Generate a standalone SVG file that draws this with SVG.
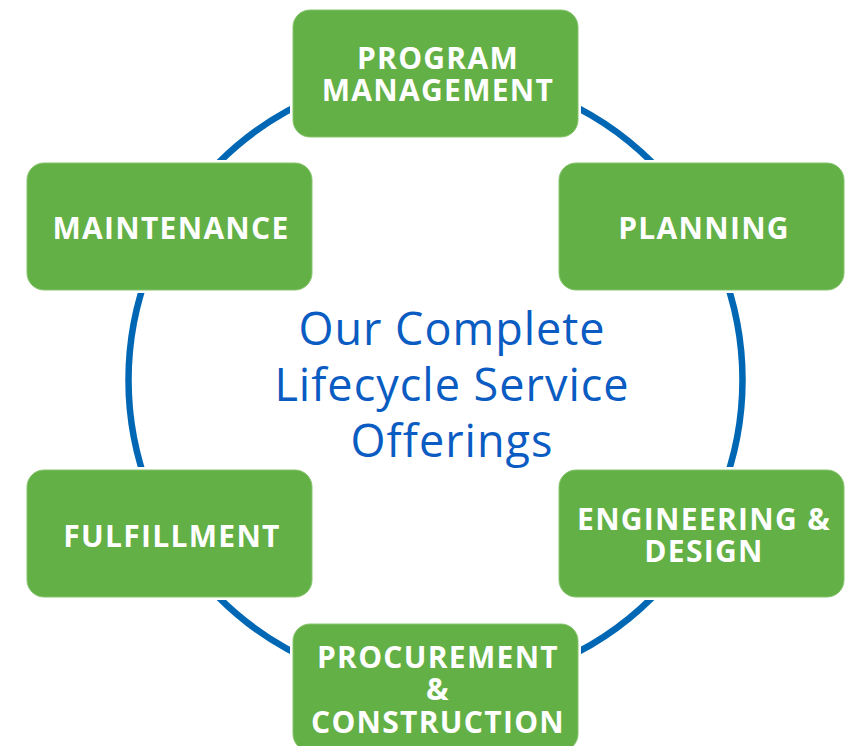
<svg xmlns="http://www.w3.org/2000/svg" width="846" height="746" viewBox="0 0 846 746">
<style>
.pad{fill:#ffffff}
.box{fill:#63b046;stroke:#86c46c;stroke-width:1}
.lbl{font-family:"Open Sans","Noto Sans",sans-serif;font-weight:bold;font-size:30px;letter-spacing:1.3px;fill:#ffffff;text-anchor:middle}
.ctr{font-family:"Open Sans","Noto Sans",sans-serif;font-size:45px;letter-spacing:1px;fill:#0a5cc2;text-anchor:middle}
.ring{fill:none;stroke:#0067b4;stroke-width:6.5}
</style>
<rect width="846" height="746" fill="#ffffff"/>
<g id="connectors">
<circle class="ring" cx="435.5" cy="380" r="307"/>
</g>
<g id="center-title">
<text class="ctr" x="452" y="345">Our Complete</text>
<text class="ctr" x="452" y="401">Lifecycle Service</text>
<text class="ctr" x="452" y="457">Offerings</text>
</g>
<g id="program-management">
<rect class="pad" x="290" y="7" width="291" height="133" rx="20"/>
<rect class="box" x="293" y="10" width="285" height="127" rx="17"/>
<text class="lbl" x="438" y="69">PROGRAM</text>
<text class="lbl" x="438" y="101">MANAGEMENT</text>
</g>
<g id="maintenance">
<rect class="pad" x="24" y="160" width="291" height="133" rx="20"/>
<rect class="box" x="27" y="163" width="285" height="127" rx="17"/>
<text class="lbl" x="171" y="239">MAINTENANCE</text>
</g>
<g id="planning">
<rect class="pad" x="556" y="160" width="291" height="133" rx="20"/>
<rect class="box" x="559" y="163" width="285" height="127" rx="17"/>
<text class="lbl" x="704" y="239">PLANNING</text>
</g>
<g id="fulfillment">
<rect class="pad" x="24" y="467" width="291" height="133" rx="20"/>
<rect class="box" x="27" y="470" width="285" height="127" rx="17"/>
<text class="lbl" x="172" y="547">FULFILLMENT</text>
</g>
<g id="engineering-design">
<rect class="pad" x="556" y="467" width="291" height="133" rx="20"/>
<rect class="box" x="559" y="470" width="285" height="127" rx="17"/>
<text class="lbl" x="704" y="530">ENGINEERING &amp;</text>
<text class="lbl" x="704" y="562">DESIGN</text>
</g>
<g id="procurement-construction">
<rect class="pad" x="290" y="621" width="291" height="133" rx="20"/>
<rect class="box" x="293" y="624" width="285" height="127" rx="17"/>
<text class="lbl" x="438" y="668">PROCUREMENT</text>
<text class="lbl" x="438" y="700">&amp;</text>
<text class="lbl" x="438" y="733">CONSTRUCTION</text>
</g>
</svg>
